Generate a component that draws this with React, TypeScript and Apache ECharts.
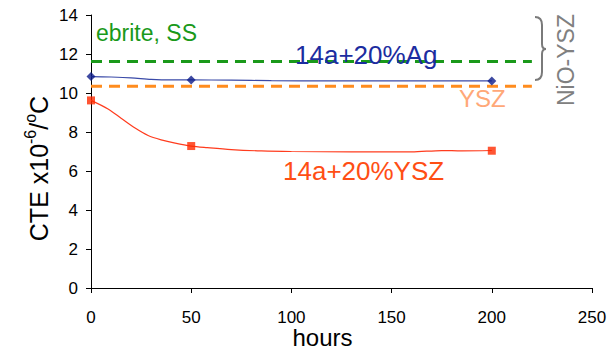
import React, { useEffect, useRef } from "react";
import * as echarts from "echarts";

// Line traces (hours, CTE x10^-6/°C)
const agHours = [0, 10, 20, 30, 40, 50, 70, 90, 120, 160, 200];
const agValues = [10.84, 10.82, 10.78, 10.7, 10.67, 10.67, 10.66, 10.63, 10.62, 10.62, 10.62];
const yszHours = [0, 8.5, 15, 22, 28.5, 35, 42, 50, 58, 70, 85, 100, 130, 160, 175, 185, 200];
const yszValues = [9.62, 9.18, 8.71, 8.2, 7.82, 7.6, 7.43, 7.28, 7.2, 7.1, 7.03, 7.0, 6.98, 6.98, 7.05, 7.03, 7.05];

// Measured points (markers)
const markerHours = [0, 50, 200];
const agMarkers = [10.84, 10.67, 10.62];
const yszMarkers = [9.62, 7.28, 7.04];

// Reference levels
const refHours = [0, 220];
const crofer = 11.62; // "ebrite, SS"
const yszRef = 10.34; // "YSZ"

const xTicks = { min: 0, max: 250, interval: 50 };
const yTicks = { min: 0, max: 14, interval: 2 };

const FONT = "Liberation Sans, Arial, sans-serif";

const zip = (xs: number[], ys: number[]) => xs.map((x, i) => [x, ys[i]]);

export default function App() {
  const ref = useRef<HTMLDivElement>(null);
  useEffect(() => {
    if (!ref.current) return;
    document.body.style.margin = "0";
    const chart = echarts.init(ref.current, null, { renderer: "svg" });
    echarts.graphic.registerShape(
      "brace",
      echarts.graphic.extendPath(
        "M0,0 Q7,0 7,8 L7,27 Q7,32 11,32 Q7,32 7,37 L7,55 Q7,63 0,63",
        {}
      )
    );
    chart.setOption({
      animation: false,
      backgroundColor: "#ffffff",
      grid: { left: 91, right: 24, top: 15, bottom: 61, containLabel: false, outerBoundsMode: "none" },
      xAxis: {
        type: "value",
        min: xTicks.min,
        max: xTicks.max,
        interval: xTicks.interval,
        name: "hours",
        nameLocation: "middle",
        nameGap: 37,
        nameMoveOverlap: false,
        nameTextStyle: { fontFamily: FONT, fontSize: 24, lineHeight: 24, color: "#000", padding: [0, 38, 0, 0] },
        axisLine: { show: true, lineStyle: { color: "#000", width: 1 } },
        axisTick: { show: true, length: 5, lineStyle: { color: "#000" } },
        axisLabel: { fontFamily: FONT, fontSize: 17, lineHeight: 16, color: "#000", margin: 21 },
        splitLine: { show: false },
      },
      yAxis: {
        type: "value",
        min: yTicks.min,
        max: yTicks.max,
        interval: yTicks.interval,
        name: "{a|CTE x10}{s|-6}{a|/}{s|o}{a|C}",
        nameLocation: "middle",
        nameGap: 40,
        nameMoveOverlap: false,
        nameRotate: 90,
        nameTextStyle: {
          padding: [0, 34, 0, 0],
          rich: {
            a: { fontFamily: FONT, fontSize: 25, color: "#000", lineHeight: 29, verticalAlign: "bottom" },
            s: { fontFamily: FONT, fontSize: 16, color: "#000", lineHeight: 29, verticalAlign: "top" },
          },
        },
        axisLine: { show: true, lineStyle: { color: "#000", width: 1 } },
        axisTick: { show: true, length: 5, lineStyle: { color: "#000" } },
        axisLabel: { fontFamily: FONT, fontSize: 17, color: "#000", margin: 13 },
        splitLine: { show: false },
      },
      series: [
        {
          type: "line",
          data: zip(refHours, refHours.map(() => crofer)),
          showSymbol: false,
          lineStyle: { color: "#1a991a", width: 3, type: [11, 7] },
          z: 2,
        },
        {
          type: "line",
          data: zip(refHours, refHours.map(() => yszRef)),
          showSymbol: false,
          lineStyle: { color: "#ff8c1e", width: 3, type: [11, 7] },
          z: 2,
        },
        {
          type: "line",
          data: zip(agHours, agValues),
          smooth: 0.3,
          showSymbol: false,
          lineStyle: { color: "#3a4aa8", width: 1.2 },
          z: 3,
        },
        {
          type: "scatter",
          data: zip(markerHours, agMarkers),
          symbol: "diamond",
          symbolSize: 9,
          itemStyle: { color: "#0c1c8a" },
          z: 4,
        },
        {
          type: "line",
          data: zip(yszHours, yszValues),
          smooth: 0.3,
          showSymbol: false,
          lineStyle: { color: "#ff3c1e", width: 1.2 },
          z: 3,
        },
        {
          type: "scatter",
          data: zip(markerHours, yszMarkers),
          symbol: "rect",
          symbolSize: 8,
          itemStyle: { color: "#ff2a00" },
          z: 4,
        },
      ],
      graphic: [
        {
          type: "text",
          x: 96,
          y: 33,
          z: 100,
          style: { text: "ebrite, SS", fontFamily: FONT, fontSize: 23, fill: "#1a991a", textAlign: "left", textVerticalAlign: "middle" },
        },
        {
          type: "text",
          x: 295,
          y: 55,
          z: 100,
          style: { text: "14a+20%Ag", fontFamily: FONT, fontSize: 26, fill: "#1c2ca0", textAlign: "left", textVerticalAlign: "middle" },
        },
        {
          type: "text",
          x: 459,
          y: 98,
          z: 100,
          style: { text: "YSZ", fontFamily: FONT, fontSize: 24, fill: "#ffa878", textAlign: "left", textVerticalAlign: "middle" },
        },
        {
          type: "text",
          x: 283,
          y: 171,
          z: 100,
          style: { text: "14a+20%YSZ", fontFamily: FONT, fontSize: 26, fill: "#ff4e14", textAlign: "left", textVerticalAlign: "middle" },
        },
        {
          type: "text",
          x: 566,
          y: 60,
          rotation: Math.PI / 2,
          z: 100,
          style: { text: "NiO-YSZ", fontFamily: FONT, fontSize: 23, fill: "#808080", textAlign: "center", textVerticalAlign: "middle" },
        },
        {
          type: "brace",
          x: 535,
          y: 17,
          z: 100,
          style: { fill: "none", stroke: "#7a7a7a", lineWidth: 2 },
        },
      ],
    });
    return () => chart.dispose();
  }, []);
  return <div ref={ref} style={{ width: 616, height: 349 }} />;
}
